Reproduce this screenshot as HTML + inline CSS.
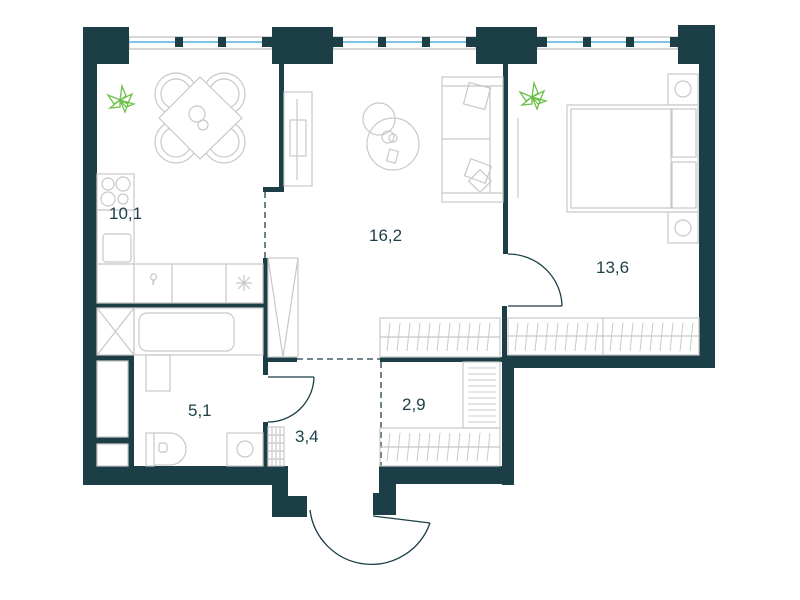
<!DOCTYPE html>
<html><head><meta charset="utf-8"><style>
html,body{margin:0;padding:0;background:#fff;width:800px;height:600px;overflow:hidden}
text{font-family:"Liberation Sans",sans-serif;font-size:17px;fill:#1c3f47}
</style></head><body>
<svg width="800" height="600" viewBox="0 0 800 600" xmlns="http://www.w3.org/2000/svg">
<g fill="none" stroke="#c8c8c8" stroke-width="1.2">
<rect x="129" y="37" width="143" height="12" stroke="#bbb"/>
<rect x="333" y="37" width="143" height="12" stroke="#bbb"/>
<rect x="537" y="37" width="141" height="12" stroke="#bbb"/>
</g>
<g stroke="#7fc3e6" stroke-width="2">
<line x1="129" y1="42" x2="272" y2="42"/><line x1="333" y1="42" x2="476" y2="42"/><line x1="537" y1="42" x2="678" y2="42"/>
</g>
<g fill="#1c3f47">
<rect x="175" y="37" width="8" height="10"/><rect x="218" y="37" width="8" height="10"/><rect x="262" y="37" width="10" height="10"/>
<rect x="333" y="37" width="10" height="10"/><rect x="378" y="37" width="8" height="10"/><rect x="422" y="37" width="8" height="10"/><rect x="466" y="37" width="10" height="10"/>
<rect x="537" y="37" width="10" height="10"/><rect x="583" y="37" width="8" height="10"/><rect x="626" y="37" width="8" height="10"/><rect x="670" y="37" width="8" height="10"/>
<rect x="83" y="27" width="46" height="37"/>
<rect x="83" y="27" width="14" height="458"/>
<rect x="83" y="466" width="205" height="19"/>
<rect x="272" y="466" width="16" height="30"/>
<rect x="272" y="496" width="35" height="21"/>
<rect x="272" y="27" width="61" height="37"/>
<rect x="476" y="27" width="61" height="37"/>
<rect x="678" y="25" width="37" height="39"/>
<rect x="699" y="25" width="16" height="343"/>
<rect x="502" y="355" width="213" height="13"/>
<rect x="502" y="355" width="12" height="130"/>
<rect x="379" y="466" width="135" height="18"/>
<rect x="379" y="466" width="17" height="49"/>
<rect x="373" y="493" width="23" height="22"/>
<rect x="279" y="64" width="5" height="128"/>
<rect x="263" y="187" width="21" height="5"/>
<rect x="263" y="258" width="5" height="117"/>
<rect x="263" y="357" width="34" height="5"/>
<rect x="380" y="357" width="122" height="5"/>
<rect x="97" y="303" width="166" height="5"/>
<rect x="128" y="355" width="6" height="111"/>
<rect x="97" y="355" width="37" height="6"/>
<rect x="97" y="437" width="37" height="7"/>
<rect x="263" y="422" width="5" height="44"/>
<rect x="503" y="64" width="5" height="190"/>
<rect x="502" y="306" width="5" height="62"/>
</g>
<g fill="none" stroke="#1c3f47" stroke-width="1.3">
<line x1="265" y1="192" x2="265" y2="258" stroke-dasharray="6,4"/>
<line x1="297" y1="359" x2="380" y2="359" stroke-dasharray="6,4"/>
<line x1="381" y1="362" x2="381" y2="466" stroke-dasharray="6,4"/>
<line x1="268" y1="377" x2="314" y2="377"/>
<path d="M314 377 A46 46 0 0 1 268 422"/>
<line x1="508" y1="306" x2="562" y2="306"/>
<path d="M508 254 A54 53 0 0 1 562 306"/>
<line x1="373" y1="516" x2="430" y2="523"/>
<path d="M310 510 A62 62 0 0 0 430 523"/>
</g>
<g fill="none" stroke="#c8c8c8" stroke-width="1.2">
<rect x="97" y="174" width="37" height="36"/>
<circle cx="108" cy="184" r="6"/><circle cx="123" cy="184" r="7"/><circle cx="108" cy="199" r="7"/><circle cx="123" cy="199" r="5"/>
<rect x="97" y="210" width="37" height="54"/>
<rect x="103" y="234" width="28" height="28" rx="3"/>
<rect x="97" y="264" width="166" height="39"/>
<line x1="134" y1="264" x2="134" y2="303"/><line x1="172" y1="264" x2="172" y2="303"/><line x1="226" y1="264" x2="226" y2="303"/>
<path d="M238 277 L250 289 M250 277 L238 289 M244 275 L244 291 M236 283 L252 283"/>
<path d="M153 280 a3 3 0 1 1 1 0 L153 285 Z"/>
<circle cx="176" cy="94" r="21"/><circle cx="176" cy="94" r="15"/>
<circle cx="224" cy="94" r="21"/><circle cx="224" cy="94" r="15"/>
<circle cx="176" cy="142" r="21"/><circle cx="176" cy="142" r="15"/>
<circle cx="224" cy="142" r="21"/><circle cx="224" cy="142" r="15"/>
<polygon points="200,77 242,118 200,159 159,118" fill="#fff"/>
<circle cx="197" cy="114" r="8"/><circle cx="203" cy="125" r="5"/>
<rect x="268" y="258" width="30" height="99"/>
<path d="M268 258 L283 357 L298 258"/>
<rect x="97" y="308" width="37" height="47"/><path d="M97 308 L134 355 M134 308 L97 355"/>
<rect x="134" y="308" width="129" height="47"/>
<rect x="139" y="313" width="95" height="38" rx="8"/>
<rect x="146" y="355" width="24" height="36"/>
<rect x="97" y="361" width="31" height="76"/>
<rect x="97" y="444" width="31" height="22"/>
<rect x="146" y="433" width="8" height="33"/>
<path d="M154 433 L170 433 A16 16 0 0 1 170 465 L154 465"/>
<rect x="159" y="443" width="8" height="9" rx="2"/>
<rect x="227" y="433" width="36" height="33"/>
<circle cx="245" cy="449" r="8"/>
<rect x="268" y="427" width="16" height="39"/>
<path d="M272 427 V466 M276 427 V466 M280 427 V466 M268 435 H284 M268 443 H284 M268 451 H284 M268 459 H284"/>
<rect x="284" y="92" width="28" height="94"/>
<rect x="290" y="120" width="16" height="36"/>
<line x1="297" y1="99" x2="297" y2="180"/>
<circle cx="379" cy="119" r="16"/>
<circle cx="393" cy="144" r="26"/>
<circle cx="388" cy="137" r="6"/><circle cx="393" cy="138" r="4"/>
<rect x="388" y="150" width="9" height="12" transform="rotate(15 392 156)"/>
<rect x="442" y="77" width="61" height="125"/>
<line x1="442" y1="86" x2="503" y2="86"/><line x1="442" y1="193" x2="503" y2="193"/>
<line x1="442" y1="139" x2="490" y2="139"/><line x1="490" y1="86" x2="490" y2="193"/>
<rect x="466" y="85" width="22" height="22" transform="rotate(15 477 96)"/>
<rect x="467" y="162" width="22" height="18" transform="rotate(20 478 171)"/>
<rect x="472" y="173" width="16" height="16" transform="rotate(45 480 181)"/>
<line x1="518" y1="118" x2="518" y2="198"/>
<rect x="567" y="105" width="131" height="107"/>
<rect x="571" y="109" width="100" height="99"/>
<rect x="672" y="109" width="24" height="48"/><rect x="672" y="162" width="24" height="46"/>
<rect x="668" y="74" width="30" height="31"/><circle cx="683" cy="89" r="8"/>
<rect x="668" y="212" width="30" height="31"/><circle cx="683" cy="228" r="8"/>
<rect x="380" y="318" width="120" height="39"/><line x1="380" y1="337" x2="500" y2="337"/>
<rect x="508" y="318" width="191" height="37"/><line x1="508" y1="336" x2="699" y2="336"/><line x1="603" y1="318" x2="603" y2="355"/>
<rect x="380" y="428" width="120" height="38"/><line x1="380" y1="447" x2="500" y2="447"/>
<rect x="463" y="362" width="37" height="66"/>
</g>
<g stroke="#c8c8c8" stroke-width="1">
<path d="M390 323 l-3 28 M400 323 l-3 28 M410 323 l-3 28 M420 323 l-3 28 M430 323 l-3 28 M440 323 l-3 28 M450 323 l-3 28 M460 323 l-3 28 M470 323 l-3 28 M480 323 l-3 28 M490 323 l-3 28"/>
<path d="M390 433 l-3 28 M400 433 l-3 28 M410 433 l-3 28 M420 433 l-3 28 M430 433 l-3 28 M440 433 l-3 28 M450 433 l-3 28 M460 433 l-3 28 M470 433 l-3 28 M480 433 l-3 28 M490 433 l-3 28"/>
<path d="M518 323 l-3 28 M528 323 l-3 28 M538 323 l-3 28 M548 323 l-3 28 M558 323 l-3 28 M568 323 l-3 28 M578 323 l-3 28 M588 323 l-3 28 M598 323 l-3 28 M613 323 l-3 28 M623 323 l-3 28 M633 323 l-3 28 M643 323 l-3 28 M653 323 l-3 28 M663 323 l-3 28 M673 323 l-3 28 M683 323 l-3 28 M693 323 l-3 28"/>
<path d="M468 368 h28 M468 374 h28 M468 380 h28 M468 386 h28 M468 392 h28 M468 398 h28 M468 404 h28 M468 410 h28 M468 416 h28 M468 422 h28"/>
</g>
<g fill="none" stroke="#6cc04a" stroke-width="1.3">
<path d="M120 100 l-12 -5 l6 9 z M120 100 l2 -14 l4 10 z M120 100 l12 -6 l-4 9 z M120 100 l-10 8 l10 -1 z M120 100 l5 12 l3 -8 z M120 100 l14 4 l-8 3 z"/>
<path d="M532 97 l-12 -5 l6 9 z M532 97 l2 -14 l4 10 z M532 97 l12 -6 l-4 9 z M532 97 l-10 8 l10 -1 z M532 97 l5 12 l3 -8 z M532 97 l14 4 l-8 3 z"/>
</g>
<text x="109" y="219">10,1</text>
<text x="369" y="241">16,2</text>
<text x="596" y="273">13,6</text>
<text x="188" y="416">5,1</text>
<text x="295" y="442">3,4</text>
<text x="402" y="410">2,9</text>
</svg>
</body></html>
